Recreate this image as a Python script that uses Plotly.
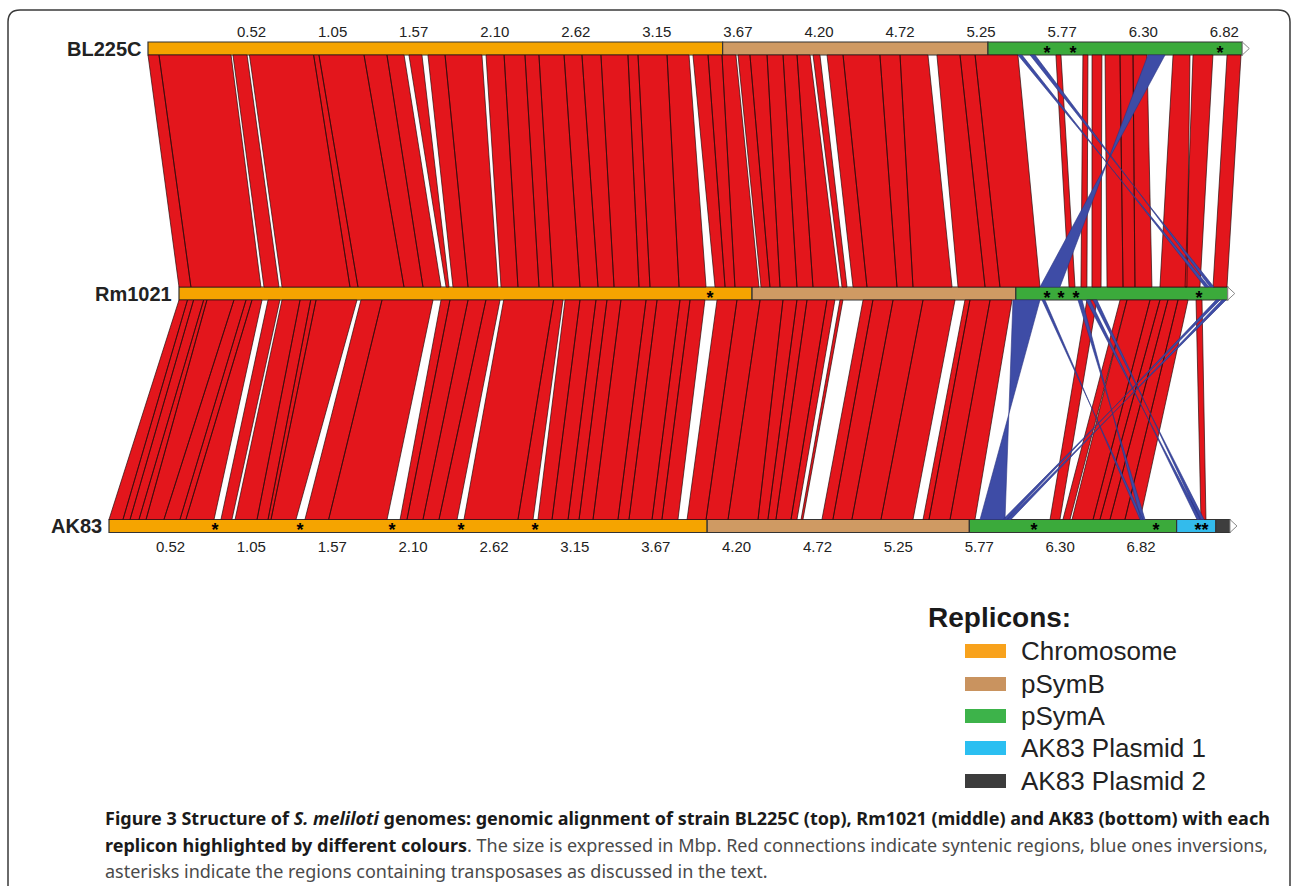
import plotly.graph_objects as go

W, H = 1292, 886

# ---------------- data ----------------
GENOMES = ["BL225C", "Rm1021", "AK83"]
REPLICONS = ["Chromosome", "pSymB", "pSymA", "AK83 Plasmid 1", "AK83 Plasmid 2"]
BL225C_SIZES = [3.66, 1.69, 1.62]               # Mbp
RM1021_SIZES = [3.65, 1.68, 1.35]
AK83_SIZES = [3.81, 1.67, 1.32, 0.25, 0.09]

TICK_VALUES = [0.525, 1.05, 1.575, 2.1, 2.625, 3.15, 3.675, 4.2, 4.725, 5.25, 5.775, 6.3, 6.825]
TICK_TEXT = ["0.52", "1.05", "1.57", "2.10", "2.62", "3.15", "3.67", "4.20", "4.72",
             "5.25", "5.77", "6.30", "6.82"]

# transposase regions (asterisks), Mbp
STAR_BL225C = [5.726, 5.892, 6.828]
STAR_RM1021 = [3.382, 5.529, 5.618, 5.713, 6.497]
STAR_AK83 = [0.675, 1.217, 1.803, 2.242, 2.713, 5.892, 6.669, 6.936, 6.981]

# collinear syntenic breakpoints BL225C -> Rm1021 (Mbp); 1 = syntenic block follows, 0 = gap
TM_BL225C = [0.000, 0.070, 0.529, 0.541, 0.631, 0.646, 1.055, 1.089, 1.376, 1.522,
             1.631, 1.662, 1.745, 1.783, 1.892, 2.127, 2.153, 2.268, 2.401, 2.490,
             2.650, 2.764, 2.885, 3.057, 3.121, 3.306, 3.446, 3.471, 3.567, 3.656,
             3.745, 3.758, 3.834, 3.943, 4.045, 4.134, 4.217, 4.236, 4.280, 4.325,
             4.427, 4.662, 4.790, 4.968, 5.025, 5.172, 5.268, 5.541]
TM_RM1021 = [0.000, 0.076, 0.522, 0.541, 0.637, 0.656, 1.089, 1.140, 1.433, 1.554,
             1.669, 1.701, 1.720, 1.745, 1.841, 2.032, 2.051, 2.159, 2.293, 2.382,
             2.554, 2.669, 2.771, 2.930, 3.000, 3.185, 3.357, 3.414, 3.478, 3.541,
             3.694, 3.707, 3.764, 3.828, 3.936, 4.038, 4.204, 4.223, 4.255, 4.293,
             4.382, 4.573, 4.675, 4.924, 4.962, 5.134, 5.229, 5.484]
TM_SYNTENY = [1, 1, 0, 1, 0, 1, 1, 1, 1, 1, 0, 1, 0, 1, 1, 0, 1, 1, 1, 1,
              1, 1, 1, 1, 1, 1, 0, 1, 1, 1, 0, 1, 1, 1, 1, 1, 0, 1, 0, 1,
              1, 1, 1, 0, 1, 1, 1]

# collinear syntenic breakpoints Rm1021 -> AK83 (Mbp)
MB_RM1021 = [0.000, 0.054, 0.093, 0.157, 0.178, 0.350, 0.427, 0.465, 0.529, 0.567,
             0.643, 0.656, 0.771, 0.839, 0.873, 1.134, 1.159, 1.293, 1.618, 1.669,
             1.726, 1.841, 1.955, 2.045, 2.068, 2.386, 2.446, 2.459, 2.554, 2.656,
             2.726, 2.815, 2.975, 3.045, 3.191, 3.255, 3.350, 3.427, 3.554, 3.701,
             3.847, 3.936, 4.000, 4.127, 4.178, 4.210, 4.229, 4.357, 4.420, 4.548,
             4.739, 4.943, 5.006, 5.038, 5.166, 5.306]
MB_AK83 = [0.000, 0.089, 0.134, 0.191, 0.236, 0.350, 0.452, 0.490, 0.669, 0.713,
           0.783, 0.803, 0.943, 1.013, 1.032, 1.191, 1.248, 1.399, 1.771, 1.854,
           1.898, 2.000, 2.102, 2.217, 2.261, 2.605, 2.701, 2.732, 2.822, 2.924,
           2.994, 3.083, 3.242, 3.312, 3.459, 3.522, 3.624, 3.682, 3.803, 3.943,
           4.134, 4.197, 4.248, 4.344, 4.382, 4.408, 4.420, 4.541, 4.611, 4.732,
           4.917, 5.121, 5.185, 5.223, 5.357, 5.516]
MB_SYNTENY = [1, 1, 1, 1, 1, 1, 1, 1, 0, 1,
              0, 1, 1, 1, 1, 0, 1, 1, 0, 1,
              1, 1, 1, 0, 1, 1, 0, 1, 1, 1,
              1, 1, 1, 1, 1, 1, 0, 1, 1, 1,
              1, 1, 1, 1, 0, 1, 0, 1, 1, 1,
              1, 0, 1, 1, 1]

# pSymA syntenic blocks (start_a, end_a, start_b, end_b), Mbp
TM_PSYMA_SYN = [(5.783, 5.815, 5.669, 5.707), (5.955, 5.987, 5.745, 5.783),
                (6.013, 6.076, 5.815, 5.873), (6.096, 6.191, 5.911, 6.013),
                (6.191, 6.274, 6.013, 6.089), (6.274, 6.363, 6.089, 6.197),
                (6.529, 6.637, 6.248, 6.420), (6.656, 6.783, 6.408, 6.503),
                (6.873, 6.962, 6.586, 6.675)]
MB_PSYMA_SYN = [(5.783, 5.847, 5.994, 6.057), (5.994, 6.038, 6.076, 6.121),
                (6.038, 6.185, 6.134, 6.268), (6.185, 6.248, 6.268, 6.312),
                (6.248, 6.299, 6.312, 6.376), (6.299, 6.363, 6.376, 6.471),
                (6.363, 6.427, 6.471, 6.567), (6.478, 6.516, 6.955, 6.987)]

# inversions (start_a, end_a, start_b, end_b), Mbp
TM_INV = [(6.369, 6.478, 5.484, 5.611), (5.541, 5.567, 6.535, 6.561),
          (5.618, 5.650, 6.567, 6.592)]
MB_INV = [(5.312, 5.484, 5.548, 5.707), (5.497, 5.516, 6.567, 6.586),
          (5.726, 5.752, 6.573, 6.599), (5.777, 5.803, 6.930, 6.955),
          (5.822, 5.847, 6.949, 6.975), (6.643, 6.669, 5.720, 5.745),
          (6.605, 6.631, 5.694, 5.720)]

# ---------------- layout constants ----------------
PX_PER_MBP = 157.0
TRACK_LEFT_PX = 148.0
GENOME_OFFSET = [0.0, 31 / PX_PER_MBP, -39 / PX_PER_MBP]   # track start shifts
ROW_Y = [48.5, 293.5, 526.0]
BAR_HALF = 6.5
BAR_COLORS = ["#F5A400", "#CF9A63", "#3BAA3B", "#33BBEC", "#3E3E3E"]
LEGEND_COLORS = ["#F8A21C", "#C9935F", "#3DB34A", "#2BBFF1", "#3C3C3C"]
RED = "#E3161C"
BLUE = "#3E4CA6"

X0 = -TRACK_LEFT_PX / PX_PER_MBP
X1 = (W - TRACK_LEFT_PX) / PX_PER_MBP


def px(x):
    return x / W


def py(y):
    return 1 - y / H


fig = go.Figure()


def add_poly(xs, ys, a0, a1, b0, b1, ga, gb, inverted=False):
    oa, ob = GENOME_OFFSET[ga], GENOME_OFFSET[gb]
    ya = ROW_Y[ga] + BAR_HALF
    yb = ROW_Y[gb] - BAR_HALF
    if inverted:
        xs += [a0 + oa, a1 + oa, b0 + ob, b1 + ob, a0 + oa, None]
    else:
        xs += [a0 + oa, a1 + oa, b1 + ob, b0 + ob, a0 + oa, None]
    ys += [ya, ya, yb, yb, ya, None]


red_x, red_y = [], []
for a, b, kinds, ga, gb in [(TM_BL225C, TM_RM1021, TM_SYNTENY, 0, 1),
                            (MB_RM1021, MB_AK83, MB_SYNTENY, 1, 2)]:
    for i, k in enumerate(kinds):
        if k:
            add_poly(red_x, red_y, a[i], a[i + 1], b[i], b[i + 1], ga, gb)
for blocks, ga, gb in [(TM_PSYMA_SYN, 0, 1), (MB_PSYMA_SYN, 1, 2)]:
    for a0, a1, b0, b1 in blocks:
        add_poly(red_x, red_y, a0, a1, b0, b1, ga, gb)

blue_x, blue_y = [], []
for blocks, ga, gb in [(TM_INV, 0, 1), (MB_INV, 1, 2)]:
    for a0, a1, b0, b1 in blocks:
        add_poly(blue_x, blue_y, a0, a1, b0, b1, ga, gb, inverted=True)

fig.add_trace(go.Scatter(x=red_x, y=red_y, mode="lines", fill="toself", fillcolor=RED,
                         line=dict(color="#2a0d0d", width=0.7), hoverinfo="skip"))
fig.add_trace(go.Scatter(x=blue_x, y=blue_y, mode="lines", fill="toself", fillcolor=BLUE,
                         line=dict(color="#2b3584", width=0.6), hoverinfo="skip"))

# ---------------- genome bars ----------------
shapes = []
for gi, sizes in enumerate([BL225C_SIZES, RM1021_SIZES, AK83_SIZES]):
    start = GENOME_OFFSET[gi]
    yc = ROW_Y[gi]
    for ri, s in enumerate(sizes):
        shapes.append(dict(type="rect", xref="x", yref="y", x0=start, x1=start + s,
                           y0=yc - BAR_HALF, y1=yc + BAR_HALF, fillcolor=BAR_COLORS[ri],
                           line=dict(color="#333333", width=1.2), layer="below"))
        start += s
    tip = 7 / PX_PER_MBP
    shapes.append(dict(type="path", xref="x", yref="y",
                       path=f"M {start},{yc - BAR_HALF} L {start + tip},{yc} L {start},{yc + BAR_HALF} Z",
                       fillcolor="white", line=dict(color="#888888", width=1), layer="below"))

# frame
fx0, fx1, fy0, r = 8, 1290, 10, 12
shapes.append(dict(type="path", xref="paper", yref="paper",
                   path=(f"M {px(fx0)},{py(H + 2)} L {px(fx0)},{py(fy0 + r)} "
                         f"Q {px(fx0)},{py(fy0)} {px(fx0 + r)},{py(fy0)} "
                         f"L {px(fx1 - r)},{py(fy0)} Q {px(fx1)},{py(fy0)} {px(fx1)},{py(fy0 + r)} "
                         f"L {px(fx1)},{py(H + 2)}"),
                   line=dict(color="#3a3a3a", width=1.5), layer="above"))

# legend swatches
LEG_ROWS = [651, 684, 716, 748, 781]
for i, name in enumerate(REPLICONS):
    shapes.append(dict(type="rect", xref="paper", yref="paper", x0=px(965), x1=px(1006),
                       y0=py(LEG_ROWS[i] - 7), y1=py(LEG_ROWS[i] + 7),
                       fillcolor=LEGEND_COLORS[i], line=dict(width=0)))

# ---------------- asterisks ----------------
for gi, stars in enumerate([STAR_BL225C, STAR_RM1021, STAR_AK83]):
    fig.add_trace(go.Scatter(x=[s + GENOME_OFFSET[gi] for s in stars],
                             y=[ROW_Y[gi] + 5.5] * len(stars), mode="text", text=["<b>*</b>"] * len(stars),
                             textposition="middle center",
                             textfont=dict(family="Liberation Sans, Arial", size=18, color="black"),
                             hoverinfo="skip"))

# dummy traces to activate the tick-label axes
fig.add_trace(go.Scatter(x=[TICK_VALUES[0]], y=[0], xaxis="x2", mode="markers",
                         marker=dict(opacity=0), hoverinfo="skip"))
fig.add_trace(go.Scatter(x=[TICK_VALUES[0]], y=[0], xaxis="x3", mode="markers",
                         marker=dict(opacity=0), hoverinfo="skip"))

annotations = []
for gi, name in enumerate(GENOMES):
    annotations.append(dict(x=GENOME_OFFSET[gi], y=ROW_Y[gi], xref="x", yref="y", text=f"<b>{name}</b>",
                            showarrow=False, xanchor="right", yanchor="middle", xshift=-5,
                            font=dict(family="Liberation Sans, Arial", size=20, color="#222222")))

annotations.append(dict(x=px(926), y=py(617), xref="paper", yref="paper", text="<b>Replicons:</b>",
                        showarrow=False, xanchor="left", yanchor="middle",
                        font=dict(family="Liberation Sans, Arial", size=28, color="#1a1a1a")))
for i, name in enumerate(REPLICONS):
    annotations.append(dict(x=px(1019), y=py(LEG_ROWS[i]), xref="paper", yref="paper", text=name,
                            showarrow=False, xanchor="left", yanchor="middle",
                            font=dict(family="Liberation Sans, Arial", size=26, color="#222222")))

CAPTION = [
    "<b>Figure 3 Structure of <i>S. meliloti</i> genomes: genomic alignment of strain BL225C (top), "
    "Rm1021 (middle) and AK83 (bottom) with each</b>",
    "<b>replicon highlighted by different colours</b><span style='color:#4a4a4a'>. The size is expressed in Mbp. "
    "Red connections indicate syntenic regions, blue ones inversions,</span>",
    "<span style='color:#4a4a4a'>asterisks indicate the regions containing transposases as discussed in the text.</span>",
]
for i, line in enumerate(CAPTION):
    annotations.append(dict(x=px(103), y=py(818 + 26.5 * i), xref="paper", yref="paper", text=line,
                            showarrow=False, xanchor="left", yanchor="middle",
                            font=dict(family="Noto Sans", size=18, color="#1a1a1a")))

tickfont = dict(family="Liberation Sans, Arial", size=15, color="#222222")
fig.update_layout(
    width=W, height=H, margin=dict(l=0, r=0, t=0, b=0),
    paper_bgcolor="white", plot_bgcolor="white", showlegend=False,
    xaxis=dict(range=[X0, X1], visible=False, fixedrange=True),
    yaxis=dict(range=[H, 0], visible=False, fixedrange=True),
    xaxis2=dict(overlaying="x", anchor="free", position=py(40), side="top",
                range=[-170.5 / 154.4, (W - 170.5) / 154.4], tickvals=TICK_VALUES, ticktext=TICK_TEXT,
                showgrid=False, zeroline=False, showline=False, ticks="", tickfont=tickfont,
                fixedrange=True),
    xaxis3=dict(overlaying="x", anchor="free", position=py(536), side="bottom",
                range=[-89.6 / 154.05, (W - 89.6) / 154.05], tickvals=TICK_VALUES, ticktext=TICK_TEXT,
                showgrid=False, zeroline=False, showline=False, ticks="", tickfont=tickfont,
                fixedrange=True),
    shapes=shapes, annotations=annotations,
)

fig.write_html("out.html", config={"displayModeBar": False},
               post_script="document.body.style.margin='0';document.body.style.overflow='hidden';")
